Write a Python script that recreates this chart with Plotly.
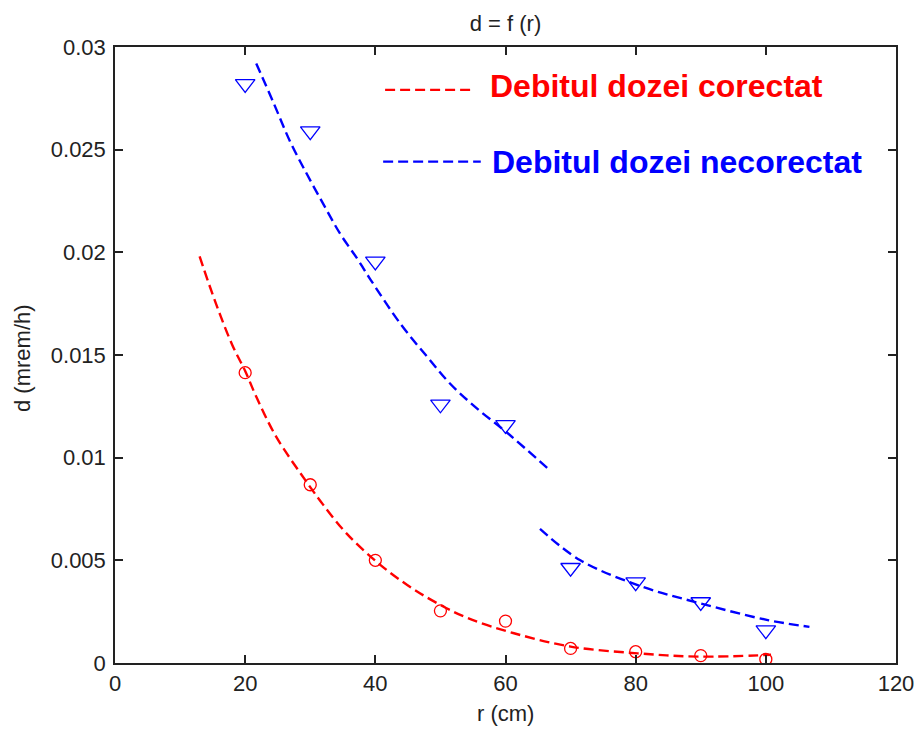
import plotly.graph_objects as go

# ---- data ----
r_points = [20, 30, 40, 50, 60, 70, 80, 90, 100]
d_corectat = [0.01414, 0.00868, 0.0050, 0.00254, 0.00204, 0.00071, 0.00055, 0.00036, 0.00018]
d_necorectat = [0.0282, 0.0259, 0.01956, 0.0126, 0.0116, 0.00464, 0.00394, 0.00297, 0.0016]

# fitted curve (corectat)
fit_red_x = [13, 15.4, 18, 20, 21.8, 24.8, 29.7, 32, 35.6, 40.3, 44.9, 49, 54.1, 61.3, 70, 80.3, 90, 100.8]
fit_red_y = [0.0198, 0.0176, 0.0155, 0.01422, 0.0129, 0.0110, 0.0087, 0.0077, 0.0063, 0.0049,
             0.0038, 0.0030, 0.0022, 0.00145, 0.0008, 0.00047, 0.00031, 0.0004]

# fitted curve (necorectat), two segments
fit_blue1_x = [21.7, 24.4, 26.9, 29.5, 32.1, 34.6, 37.2, 39.2, 43.9, 48.0, 51.5, 55.6, 60.3, 66.4]
fit_blue1_y = [0.0292, 0.02725, 0.0254, 0.0238, 0.0223, 0.0209, 0.0197, 0.0187, 0.0165, 0.0149,
               0.0136, 0.0124, 0.0112, 0.0095]
fit_blue2_x = [65.3, 71.5, 80.8, 90, 100.3, 106.7]
fit_blue2_y = [0.00653, 0.0050, 0.00374, 0.0029, 0.00209, 0.00176]

x_ticks = [0, 20, 40, 60, 80, 100, 120]
y_ticks = [0, 0.005, 0.01, 0.015, 0.02, 0.025, 0.03]
y_ticktext = ["0", "0.005", "0.01", "0.015", "0.02", "0.025", "0.03"]

label_red = "Debitul dozei corectat"
label_blue = "Debitul dozei necorectat"

RED = "#ff0000"
BLUE = "#0000ff"
TXT = "#222222"
FONT = "Liberation Sans, Arial, sans-serif"
DASH = "10px,5px"
LW = 2.4

fig = go.Figure()

fig.add_trace(go.Scatter(x=fit_red_x, y=fit_red_y, mode="lines",
                         line=dict(color=RED, width=LW, dash=DASH, shape="spline", smoothing=1.0),
                         showlegend=False, hoverinfo="skip"))
fig.add_trace(go.Scatter(x=fit_blue1_x, y=fit_blue1_y, mode="lines",
                         line=dict(color=BLUE, width=LW, dash=DASH, shape="spline", smoothing=1.0),
                         showlegend=False, hoverinfo="skip"))
fig.add_trace(go.Scatter(x=fit_blue2_x, y=fit_blue2_y, mode="lines",
                         line=dict(color=BLUE, width=LW, dash=DASH, shape="spline", smoothing=1.0),
                         showlegend=False, hoverinfo="skip"))

fig.add_trace(go.Scatter(x=r_points, y=d_corectat, mode="markers",
                         marker=dict(symbol="circle-open", size=12, color=RED, line=dict(width=1.3)),
                         showlegend=False))
fig.add_trace(go.Scatter(x=r_points, y=d_necorectat, mode="markers",
                         marker=dict(symbol="triangle-down-open", size=17, color=BLUE, line=dict(width=1.3)),
                         showlegend=False))

# legend-like samples and labels
fig.add_shape(type="line", x0=41.5, x1=54.9, y0=0.02791, y1=0.02791, xref="x", yref="y",
              line=dict(color=RED, width=LW, dash=DASH))
fig.add_shape(type="line", x0=41.2, x1=56.2, y0=0.02442, y1=0.02442, xref="x", yref="y",
              line=dict(color=BLUE, width=LW, dash=DASH))
fig.add_annotation(x=57.3, y=0.02811, xref="x", yref="y", text="<b>" + label_red + "</b>",
                   showarrow=False, xanchor="left", yanchor="middle",
                   font=dict(family=FONT, size=32, color=RED))
fig.add_annotation(x=57.6, y=0.0244, xref="x", yref="y", text="<b>" + label_blue + "</b>",
                   showarrow=False, xanchor="left", yanchor="middle",
                   font=dict(family=FONT, size=32, color=BLUE))

# axis titles
fig.add_annotation(x=0.5, y=0, xref="paper", yref="paper", text="r (cm)", showarrow=False,
                   xanchor="center", yanchor="middle", yshift=-50,
                   font=dict(family=FONT, size=22, color=TXT))
fig.add_annotation(x=0, y=0.5, xref="paper", yref="paper", text="d (mrem/h)", showarrow=False,
                   xanchor="center", yanchor="middle", xshift=-93, yshift=-3, textangle=-90,
                   font=dict(family=FONT, size=22, color=TXT))

axis_common = dict(showline=True, linecolor=TXT, linewidth=1.5, mirror="ticks",
                   ticks="inside", ticklen=8, tickwidth=1.5, tickcolor=TXT,
                   showgrid=False, zeroline=False, automargin=False,
                   tickfont=dict(family=FONT, size=22, color=TXT))

fig.update_layout(
    width=917, height=729,
    margin=dict(l=115, r=21, t=47, b=66),
    paper_bgcolor="white", plot_bgcolor="white",
    title=dict(text="d = f (r)", x=0.5, xref="paper", y=1 - 23 / 729, yref="container",
               xanchor="center", yanchor="middle",
               font=dict(family=FONT, size=22, color=TXT)),
    xaxis=dict(range=[0, 120], tickvals=x_ticks, ticktext=[str(v) for v in x_ticks], **axis_common),
    yaxis=dict(range=[0, 0.03], tickvals=y_ticks, ticktext=y_ticktext,
               ticklabelstandoff=3, **axis_common),
)

fig.write_html("out.html")
